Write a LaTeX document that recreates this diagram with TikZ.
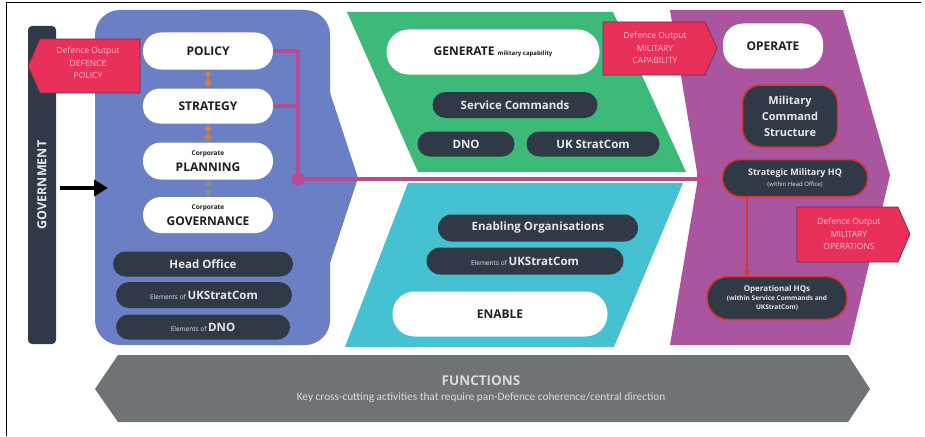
\documentclass[tikz,border=0pt]{standalone}
\usepackage{fontspec}
\setmainfont{Open Sans}
\newfontfamily\calib{Carlito}
\usetikzlibrary{arrows.meta}
\definecolor{bluec}{HTML}{6B7FC4}
\definecolor{greenc}{HTML}{3DBA7A}
\definecolor{tealc}{HTML}{45C1D1}
\definecolor{magc}{HTML}{A9559F}
\definecolor{darkc}{HTML}{2F3A46}
\definecolor{redc}{HTML}{E8305A}
\definecolor{pentb}{HTML}{6E3050}
\definecolor{redb}{HTML}{D83434}
\definecolor{pinkt}{HTML}{F7B8C8}
\definecolor{greyc}{HTML}{6E7375}
\definecolor{pinkl}{HTML}{B44D96}
\definecolor{orangec}{HTML}{D6803F}
\definecolor{grarr}{HTML}{8C8C8C}
\definecolor{textdark}{HTML}{1E1E24}
\definecolor{lightt}{HTML}{E8E8EC}
\definecolor{functt}{HTML}{DADADA}
\newcommand\fs[2]{\fontsize{#1}{#2}\selectfont}
\begin{document}
\begin{tikzpicture}[x=1pt,y=-1pt,
  wpill/.style={fill=white, text=textdark, inner sep=0pt, align=center, font=\bfseries\fs{12}{14}},
  dpill/.style={fill=darkc, text=lightt, inner sep=0pt, align=center, font=\bfseries\fs{11.5}{14}},
  rpill/.style={dpill, draw=redb, line width=1.5pt},
  pent/.style={fill=redc, draw=pentb, line width=0.7pt},
  pentt/.style={text=pinkt, align=center, inner sep=0pt, font=\fs{8.5}{12.5}},
  oarrow/.style={{Triangle[length=5pt,width=8pt]}-{Triangle[length=5pt,width=8pt]}, line width=2pt, draw=orangec, fill=orangec, shorten <=1pt, shorten >=1pt},
  pinkline/.style={draw=pinkl, line width=3.5pt}
]
\useasboundingbox (0,0) rectangle (925,436);
\fill[white] (0,0) rectangle (925,436);
\draw[line width=1pt] (6,436) -- (6,3) -- (921,3);

% column shapes
\fill[bluec, rounded corners=25pt] (95,10) rectangle (330,345);
\fill[bluec] (200,10) -- (303,10) -- (358,178) -- (303,345) -- (200,345) -- cycle;
\fill[greenc] (347,12) -- (613,12) -- (686,172) -- (418,172) -- cycle;
\fill[tealc] (408,183) -- (683,183) -- (614,347) -- (345,347) -- cycle;
\fill[magc] (670,10) -- (843,10) -- (890,175) -- (850,345) -- (670,345) -- (698,178) -- cycle;

% functions bar
\fill[greyc] (95,389) -- (118,355) -- (848,355) -- (870,389) -- (848,422) -- (118,422) -- cycle;
\node[text=functt, font=\bfseries\fs{13.5}{15}] (funct) at (481,381) {FUNCTIONS};
\node[text=functt, font=\calib\fs{11.3}{13}] (functs) at (481,398) {Key cross-cutting activities that require pan-Defence coherence/central direction};

% government bar
\node[fill=darkc, rounded corners=4pt, minimum width=28pt, minimum height=318pt, inner sep=0pt] (gov) at (42,185) {};
\node[rotate=90, text=lightt, font=\bfseries\fs{12.5}{14}] (govt) at (gov.center) {GOVERNMENT};
\coordinate (arrs) at (60,188);
\coordinate (arre) at (108,188);
\draw[line width=3.5pt, -{Triangle[length=14pt,width=16pt]}] (arrs) -- (arre);

% blue column
\node[wpill, minimum width=130pt, minimum height=37pt, rounded corners=18pt] (policy) at (208,51) {POLICY};
\node[wpill, minimum width=130pt, minimum height=35pt, rounded corners=17pt] (strategy) at (208,106) {STRATEGY};
\node[wpill, minimum width=130pt, minimum height=37pt, rounded corners=18pt] (planning) at (208,161) {{\fs{6.5}{8}Corporate}\\[2pt]PLANNING};
\node[wpill, minimum width=130pt, minimum height=36pt, rounded corners=18pt] (governance) at (208,215) {{\fs{6.5}{8}Corporate}\\[2pt]GOVERNANCE};
\draw[oarrow] (policy.south) -- (strategy.north);
\draw[oarrow] (strategy.south) -- (planning.north);
\draw[oarrow, draw=grarr, fill=grarr] (planning.south) -- (governance.north);

\node[dpill, minimum width=180pt, minimum height=25pt, rounded corners=12.5pt] (head) at (203,264) {Head Office};
\node[dpill, minimum width=176pt, minimum height=26pt, rounded corners=13pt] (elukb) at (204,295) {{\mdseries\fs{6.5}{8}Elements of }UKStratCom};
\node[dpill, minimum width=174pt, minimum height=25pt, rounded corners=12.5pt] (eldno) at (203,327) {{\mdseries\fs{6.5}{8}Elements of }DNO};

% pink connector
\coordinate (dot) at (298,179);
\coordinate (pend) at (714,179);
\draw[pinkline] (policy.east) -| (dot);
\draw[pinkline] (strategy.east) -- (strategy.east -| dot);
\draw[pinkline, -{Triangle[length=17pt,width=20pt]}] (dot) -- (pend);
\fill[pinkl] (dot) circle[radius=6.5];

% green column
\node[wpill, minimum width=213pt, minimum height=45pt, rounded corners=22pt] (generate) at (493,52) {GENERATE {\fs{6}{7}military capability}};
\node[dpill, minimum width=165pt, minimum height=26pt, rounded corners=13pt] (service) at (515,105) {Service Commands};
\node[dpill, minimum width=97pt, minimum height=25pt, rounded corners=12.5pt] (dno) at (466,144) {DNO};
\node[dpill, minimum width=133pt, minimum height=25pt, rounded corners=12.5pt] (ukstrat) at (593,144) {UK StratCom};

% teal column
\node[dpill, minimum width=200pt, minimum height=27pt, rounded corners=13.5pt] (enabling) at (538,228) {Enabling Organisations};
\node[dpill, minimum width=197pt, minimum height=27pt, rounded corners=13.5pt] (elukt) at (525,261) {{\mdseries\fs{6.5}{8}Elements of }UKStratCom};
\node[wpill, minimum width=215pt, minimum height=45pt, rounded corners=22pt] (enable) at (500,314) {ENABLE};

% magenta column
\node[wpill, minimum width=100pt, minimum height=45pt, rounded corners=20pt] (operate) at (773,46) {OPERATE};
\node[rpill, minimum width=95pt, minimum height=62pt, rounded corners=18pt, font=\bfseries\fs{11}{16}] (mcs) at (790,116) {Military\\Command\\Structure};
\node[rpill, minimum width=145pt, minimum height=37pt, rounded corners=18pt, font=\bfseries\fs{9}{10.5}] (smhq) at (795,178) {Strategic Military HQ\\{\mdseries\fs{6}{8}(within Head Office)}};
\node[rpill, minimum width=140pt, minimum height=43pt, rounded corners=21pt, font=\bfseries\fs{6.5}{9}] (ophq) at (777,298) {{\fs{8}{9}Operational HQs}\\(within Service Commands and\\UKStratCom)};
\coordinate (rx) at (747,0);
\draw[draw=redb, line width=1.2pt, -{Stealth[length=6pt,width=6pt]}] (smhq.south -| rx) -- (ophq.north -| rx);

% defence output pentagons
\draw[pent] (28,66) -- (40,39) -- (140,39) -- (140,93) -- (40,93) -- cycle;
\node[pentt] (dop) at (88,63) {Defence Output\\DEFENCE\\POLICY};
\draw[pent] (603,22) -- (705,22) -- (717,48) -- (705,75) -- (603,75) -- cycle;
\node[pentt] (doc) at (655,48) {Defence Output\\MILITARY\\CAPABILITY};
\draw[pent] (797,207) -- (898,207) -- (910,234) -- (898,262) -- (797,262) -- cycle;
\node[pentt] (doo) at (849,234) {Defence Output\\MILITARY\\OPERATIONS};
\end{tikzpicture}
\end{document}
